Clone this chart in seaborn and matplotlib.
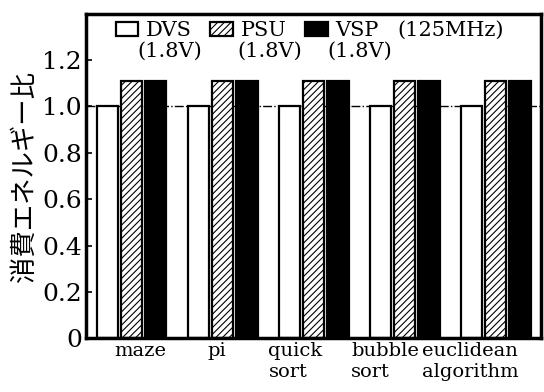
import matplotlib
matplotlib.use("Agg")
import matplotlib.pyplot as plt
import matplotlib.transforms as mtransforms
from matplotlib.patches import Patch
import seaborn as sns
import pandas as pd

# datos
programas = ["maze", "pi", "quick\nsort", "bubble\nsort", "euclidean\nalgorithm"]
metodos = ["DVS", "PSU", "VSP"]
dvs = [1.0, 1.0, 1.0, 1.0, 1.0]
psu = [1.11, 1.11, 1.11, 1.11, 1.11]
vsp = [1.11, 1.11, 1.11, 1.11, 1.11]
yticks = [0, 0.2, 0.4, 0.6, 0.8, 1.0, 1.2]
ytick_labels = ["0", "0.2", "0.4", "0.6", "0.8", "1.0", "1.2"]

df = pd.DataFrame({
    "programa": programas * 3,
    "metodo": ["DVS"] * 5 + ["PSU"] * 5 + ["VSP"] * 5,
    "ratio": dvs + psu + vsp,
})

sns.set_style("ticks", {"axes.edgecolor": "black", "xtick.color": "black", "ytick.color": "black",
                        "text.color": "black", "axes.labelcolor": "black"})
plt.rcParams["font.family"] = ["DejaVu Serif", "Noto Sans CJK JP"]
plt.rcParams["hatch.linewidth"] = 0.8

fig, ax = plt.subplots(figsize=(5.44, 3.92), dpi=100)
sns.barplot(data=df, x="programa", y="ratio", hue="metodo", order=programas,
            hue_order=metodos, width=0.8, gap=0.12, ax=ax, legend=False)

estilos = [("white", ""), ("white", "/////"), ("black", "")]
for cont, (fc, hatch) in zip(ax.containers, estilos):
    for bar in cont:
        bar.set_facecolor(fc)
        bar.set_edgecolor("black")
        bar.set_linewidth(1.6)
        bar.set_hatch(hatch)

# linea de referencia en 1.0
ax.axhline(1.0, color="black", lw=1.0, ls="-.", zorder=0.5)

ax.set_xlim(-0.5, 4.5)
ax.set_ylim(0, 1.4)
ax.set_yticks(yticks)
ax.set_yticklabels(ytick_labels, fontsize=18)
ax.tick_params(axis="y", direction="in", length=4, width=1.2, pad=3)
ax.tick_params(axis="x", length=0, labelsize=14, pad=3)
ax.set_xlabel("")
ax.set_ylabel("消費エネルギー比", fontsize=19, family=["Noto Sans CJK JP"], labelpad=3)
for s in ax.spines.values():
    s.set_linewidth(2.5)
    s.set_color("black")

# etiquetas del eje x alineadas a la izquierda como en el original
desplaz = [6, -4, -13, -14, -18]
for lab, d in zip(ax.get_xticklabels(), desplaz):
    lab.set_multialignment("left")
    lab.set_transform(lab.get_transform() + mtransforms.ScaledTranslation(d / 72, 0, fig.dpi_scale_trans))

# leyenda
handles = [Patch(facecolor=fc, edgecolor="black", hatch=h, lw=1.6) for fc, h in estilos]
ax.legend(handles, metodos, loc="center left", bbox_to_anchor=(0.065, 0.948), ncol=3,
          frameon=False, fontsize=15, handlelength=1.1, handleheight=0.65,
          handletextpad=0.35, columnspacing=0.9, borderaxespad=0, borderpad=0)
for x in [0.185, 0.404, 0.602]:
    ax.text(x, 0.884, "(1.8V)", transform=ax.transAxes, fontsize=15, ha="center", va="center")
ax.text(0.8, 0.95, "(125MHz)", transform=ax.transAxes, fontsize=15, ha="center", va="center")

fig.subplots_adjust(left=0.158, right=0.995, top=0.965, bottom=0.137)
fig.savefig("out.png", dpi=100)
